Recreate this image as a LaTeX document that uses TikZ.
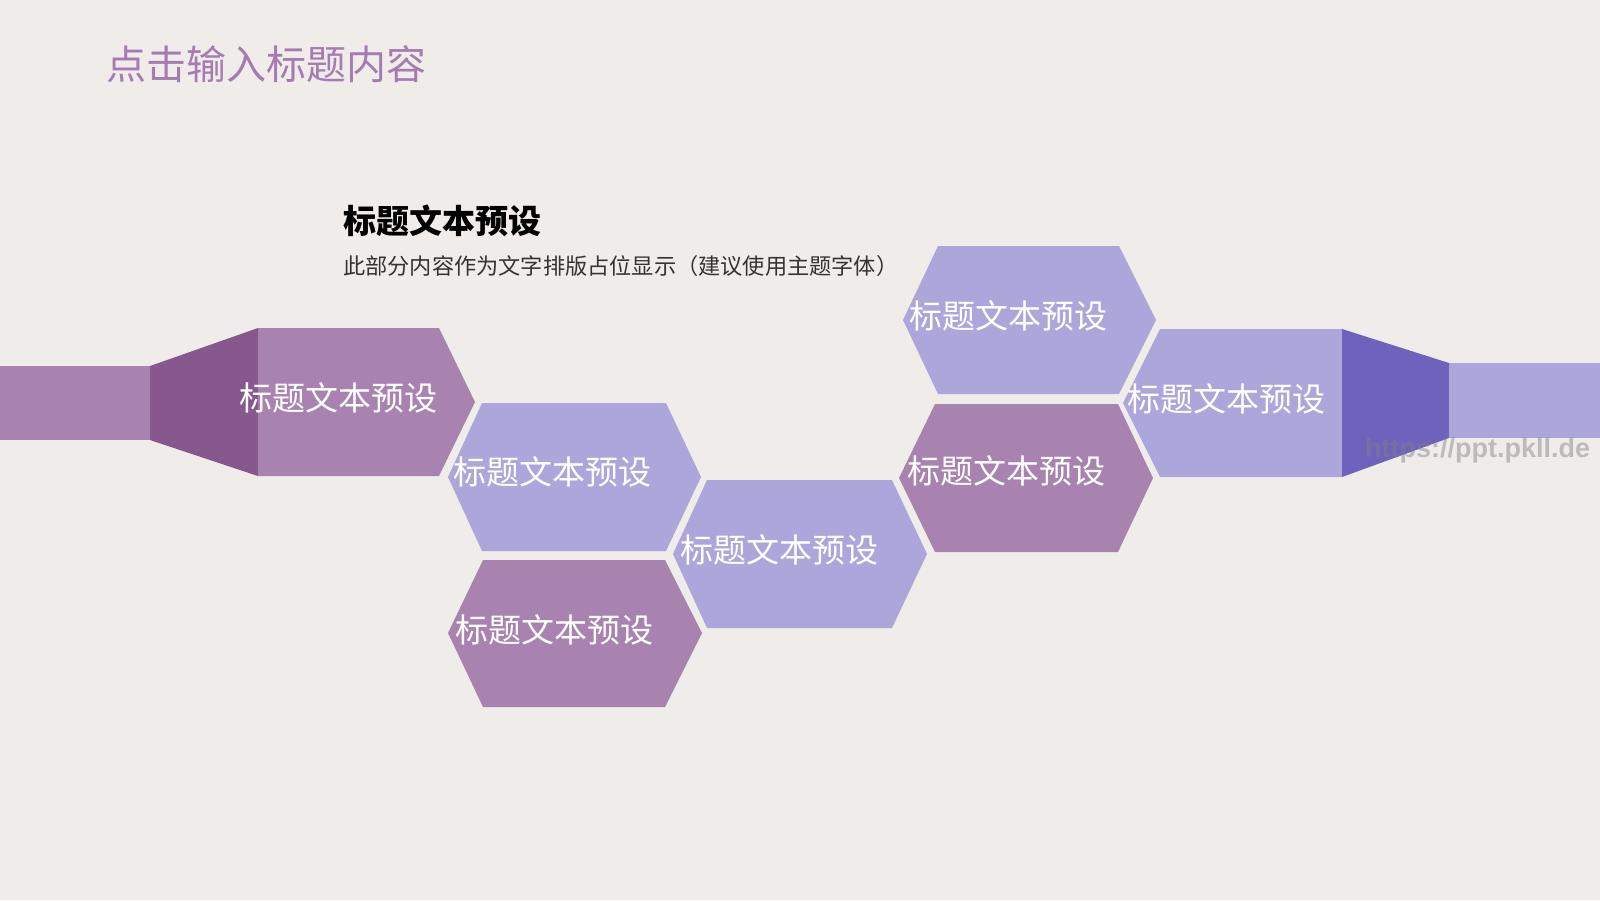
\documentclass[tikz,border=0pt]{standalone}
\usepackage{fontspec}
\newfontfamily\cjk{Noto Sans CJK SC}
\newfontfamily\wmfont{Liberation Sans}
\definecolor{bgc}{HTML}{EFECE9}
\definecolor{mauve}{HTML}{A983B0}
\definecolor{darkmauve}{HTML}{87588E}
\definecolor{lav}{HTML}{ADA6DA}
\definecolor{darkviolet}{HTML}{6F62BD}
\definecolor{titlec}{HTML}{A57BB1}
\tikzset{
  shapetext/.style={anchor=west,inner sep=0pt,text=white,font=\cjk\fontsize{33}{33}\selectfont},
}
\begin{document}
\begin{tikzpicture}[x=1pt,y=-1pt]
\fill[bgc] (0,0) rectangle (1600,900);
\useasboundingbox (0,0) rectangle (1600,900);
% title
\node[anchor=west,inner sep=0pt,text=titlec,font=\cjk\fontsize{40}{40}\selectfont] (title) at (106,64) {点击输入标题内容};
\node[anchor=west,inner sep=0pt,text=black,font=\cjk\bfseries\fontsize{33}{33}\selectfont] (head) at (343,221) {标题文本预设};
\node[anchor=west,inner sep=0pt,text=black!80,font=\cjk\fontsize{22.2}{22.2}\selectfont] (sub) at (343,266) {此部分内容作为文字排版占位显示（建议使用主题字体）};
% left arrow
\fill[mauve] (0,366) rectangle (150,440);
\fill[darkmauve] (150,366) -- (258,328) -- (258,476) -- (150,440) -- cycle;
\fill[mauve] (258,328) -- (439,328) -- (475,402) -- (439,476) -- (258,476) -- cycle;
% hexagons
\fill[lav] (448,477) -- (482,403) -- (666,403) -- (701,477) -- (666,551) -- (482,551) -- cycle;
\fill[mauve] (448,633) -- (483,560) -- (665,560) -- (702,633) -- (665,707) -- (483,707) -- cycle;
\fill[lav] (673,554) -- (707,480) -- (892,480) -- (927,554) -- (892,628) -- (707,628) -- cycle;
\fill[lav] (903,320) -- (938,246) -- (1119,246) -- (1156,320) -- (1119,394) -- (938,394) -- cycle;
\fill[mauve] (899,478) -- (935,404) -- (1118,404) -- (1153,478) -- (1118,552) -- (935,552) -- cycle;
% right arrow
\fill[lav] (1123,403) -- (1160,329) -- (1342,329) -- (1342,477) -- (1160,477) -- cycle;
\fill[darkviolet] (1342,329) -- (1449,363) -- (1449,438) -- (1342,477) -- cycle;
\fill[lav] (1449,363) rectangle (1600,438);
% texts
\node[shapetext] (t1) at (239,398) {标题文本预设};
\node[shapetext] (t2) at (453,472) {标题文本预设};
\node[shapetext] (t3) at (455,630) {标题文本预设};
\node[shapetext] (t4) at (680,550) {标题文本预设};
\node[shapetext] (t5) at (909,316) {标题文本预设};
\node[shapetext] (t6) at (907,471) {标题文本预设};
\node[shapetext] (t7) at (1127,399) {标题文本预设};
% watermark
\node[anchor=west,inner sep=0pt,text=gray,opacity=0.45,font=\wmfont\bfseries\fontsize{27}{27}\selectfont] (wm) at (1365,451) {https://ppt.pkll.de};
\end{tikzpicture}
\end{document}
